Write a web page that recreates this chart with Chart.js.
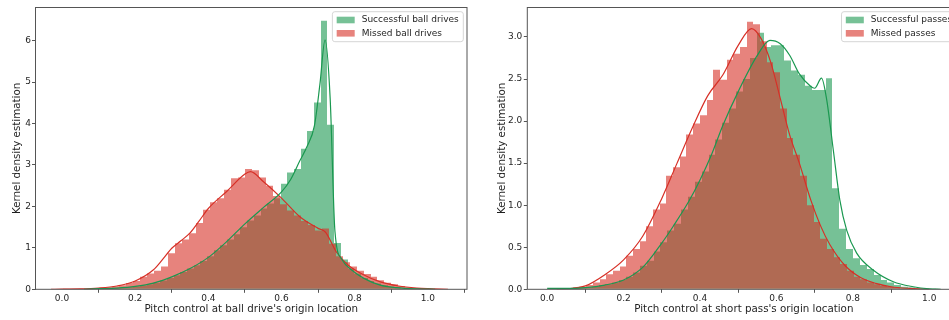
<!DOCTYPE html>
<html><head><meta charset="utf-8">
<script src="https://cdn.jsdelivr.net/npm/chart.js@4.4.1/dist/chart.umd.min.js"></script>
<style>
html,body{margin:0;padding:0;background:#fff;overflow:hidden;width:949px;height:320px;}
#wrap{position:relative;width:949px;height:320px;overflow:hidden;background:#fff;}
#c1{position:absolute;left:0;top:0;}
#c2{position:absolute;left:478px;top:0;}
</style></head><body>
<div id="wrap"><canvas id="c1" width="475" height="320"></canvas><canvas id="c2" width="500" height="320"></canvas></div>
<script>
// ---------- tick labels ----------
const X_TICKS = [0.0, 0.2, 0.4, 0.6, 0.8, 1.0];
const DRIVES_Y_TICKS = [0, 1, 2, 3, 4, 5, 6];
const PASSES_Y_TICKS = [0.0, 0.5, 1.0, 1.5, 2.0, 2.5, 3.0];
const Y_TITLE = "Kernel density estimation";
const DRIVES_X_TITLE = "Pitch control at ball drive's origin location";
const PASSES_X_TITLE = "Pitch control at short pass's origin location";
const DRIVES_LABELS = ["Successful ball drives", "Missed ball drives"];
const PASSES_LABELS = ["Successful passes", "Missed passes"];

// ---------- ball drives: histogram bin centres and densities ----------
const drivesSuccessBins = [0.0943,0.1126,0.1309,0.1492,0.1675,0.1858,0.2041,0.2224,0.2407,0.2590,0.2773,0.2956,0.3139,0.3322,0.3505,0.3688,0.3871,0.4054,0.4237,0.4420,0.4603,0.4786,0.4969,0.5152,0.5335,0.5518,0.5701,0.5884,0.6067,0.6250,0.6433,0.6616,0.6799,0.6982,0.7165,0.7348,0.7531,0.7714,0.7897,0.8080,0.8263,0.8446,0.8629,0.8812,0.8995,0.9178,0.9361,0.9544,0.9727];
const drivesSuccessHist = [0.01,0.01,0.02,0.03,0.04,0.05,0.07,0.09,0.12,0.16,0.21,0.27,0.34,0.42,0.50,0.58,0.68,0.80,0.94,1.06,1.20,1.33,1.50,1.66,1.78,1.95,2.07,2.20,2.55,2.82,2.90,3.39,3.82,4.51,6.48,3.97,1.12,0.72,0.50,0.38,0.27,0.20,0.14,0.10,0.06,0.04,0.02,0.01,0.01];
const drivesMissedBins = [0.0124,0.0315,0.0506,0.0697,0.0888,0.1079,0.1270,0.1461,0.1652,0.1843,0.2034,0.2225,0.2416,0.2607,0.2798,0.2989,0.3180,0.3371,0.3562,0.3753,0.3944,0.4135,0.4326,0.4517,0.4708,0.4899,0.5090,0.5281,0.5472,0.5663,0.5854,0.6045,0.6236,0.6427,0.6618,0.6809,0.7000,0.7191,0.7382,0.7573,0.7764,0.7955,0.8146,0.8337,0.8528,0.8719,0.8910,0.9101,0.9292,0.9483,0.9674,0.9865];
const drivesMissedHist = [0.01,0.01,0.01,0.02,0.02,0.03,0.05,0.07,0.10,0.15,0.20,0.30,0.38,0.45,0.55,0.87,1.11,1.20,1.35,1.60,1.92,2.10,2.20,2.40,2.68,2.70,2.90,2.87,2.70,2.50,2.25,2.05,1.90,1.78,1.65,1.55,1.42,1.47,1.10,0.80,0.65,0.55,0.45,0.37,0.30,0.22,0.16,0.12,0.08,0.05,0.03,0.02];
// ---------- ball drives: KDE curves ----------
const drivesSuccessKdeX = [0.06,0.10,0.15,0.20,0.25,0.30,0.35,0.40,0.45,0.50,0.55,0.60,0.625,0.65,0.67,0.69,0.705,0.719,0.733,0.746,0.765,0.797,0.824,0.87,0.915,0.97,1.02];
const drivesSuccessKdeY = [0.0,0.015,0.03,0.07,0.15,0.30,0.50,0.77,1.15,1.58,1.97,2.35,2.65,3.10,3.45,3.95,4.95,6.02,4.60,1.40,0.72,0.43,0.27,0.10,0.04,0.01,0.0];
const drivesMissedKdeX = [-0.03,0.0,0.05,0.10,0.15,0.20,0.25,0.275,0.30,0.325,0.35,0.375,0.40,0.45,0.50,0.515,0.55,0.60,0.65,0.70,0.72,0.75,0.78,0.82,0.87,0.92,0.97,1.00,1.055];
const drivesMissedKdeY = [0.0,0.005,0.01,0.03,0.08,0.20,0.47,0.72,0.99,1.17,1.36,1.65,1.95,2.36,2.78,2.84,2.60,2.20,1.75,1.47,1.38,0.90,0.60,0.37,0.18,0.08,0.03,0.015,0.0];

// ---------- short passes: histogram bin centres and densities ----------
const passesSuccessBins = [0.0175,0.0355,0.0535,0.0715,0.0895,0.1075,0.1255,0.1435,0.1615,0.1795,0.1975,0.2155,0.2335,0.2515,0.2695,0.2875,0.3055,0.3235,0.3415,0.3595,0.3775,0.3955,0.4135,0.4315,0.4495,0.4675,0.4855,0.5035,0.5215,0.5395,0.5575,0.5755,0.5935,0.6115,0.6295,0.6475,0.6655,0.6835,0.7015,0.7195,0.7375,0.7555,0.7735,0.7915,0.8095,0.8275,0.8455,0.8635,0.8815,0.8995,0.9175,0.9355,0.9535,0.9715,0.9895,1.0075];
const passesSuccessHist = [0.01,0.01,0.01,0.01,0.02,0.02,0.03,0.05,0.06,0.08,0.11,0.15,0.20,0.28,0.34,0.45,0.56,0.70,0.78,0.95,1.10,1.28,1.40,1.60,1.78,1.98,2.15,2.35,2.50,2.75,3.05,2.88,2.90,2.90,2.72,2.60,2.55,2.42,2.37,2.37,2.51,1.20,0.72,0.48,0.37,0.29,0.24,0.17,0.11,0.08,0.05,0.03,0.02,0.01,0.01,0.005];
const passesMissedBins = [0.0233,0.0408,0.0583,0.0758,0.0933,0.1108,0.1283,0.1458,0.1633,0.1808,0.1983,0.2158,0.2333,0.2508,0.2683,0.2858,0.3033,0.3208,0.3383,0.3558,0.3733,0.3908,0.4083,0.4258,0.4433,0.4608,0.4783,0.4958,0.5133,0.5308,0.5483,0.5658,0.5833,0.6008,0.6183,0.6358,0.6533,0.6708,0.6883,0.7058,0.7233,0.7408,0.7583,0.7758,0.7933,0.8108,0.8283,0.8458,0.8633,0.8808,0.8983,0.9158,0.9333,0.9508,0.9683];
const passesMissedHist = [0.0,0.01,0.01,0.02,0.03,0.05,0.08,0.12,0.18,0.22,0.27,0.40,0.48,0.57,0.75,0.95,1.02,1.35,1.45,1.58,1.84,1.97,2.07,2.25,2.61,2.49,2.73,2.80,2.88,3.18,3.15,2.95,2.70,2.58,2.15,1.80,1.60,1.35,1.00,0.80,0.60,0.48,0.38,0.30,0.22,0.15,0.12,0.08,0.06,0.04,0.03,0.02,0.01,0.01,0.005];
// ---------- short passes: KDE curves ----------
const passesSuccessKdeX = [0.0,0.05,0.10,0.15,0.20,0.25,0.30,0.33,0.37,0.40,0.43,0.46,0.50,0.55,0.583,0.61,0.635,0.66,0.69,0.70,0.718,0.731,0.749,0.766,0.784,0.81,0.853,0.906,0.958,1.0,1.03];
const passesSuccessKdeY = [0.01,0.01,0.02,0.05,0.11,0.26,0.55,0.75,1.04,1.30,1.60,1.95,2.35,2.78,2.96,2.92,2.78,2.56,2.41,2.39,2.51,2.27,1.65,1.06,0.70,0.43,0.23,0.09,0.03,0.005,0.0];
const passesMissedKdeX = [0.025,0.05,0.10,0.15,0.20,0.25,0.30,0.34,0.38,0.42,0.46,0.50,0.535,0.56,0.585,0.61,0.635,0.66,0.69,0.715,0.74,0.78,0.82,0.86,0.90,0.95,1.0];
const passesMissedKdeY = [0.0,0.005,0.04,0.17,0.35,0.63,1.08,1.50,1.92,2.30,2.55,2.90,3.10,2.98,2.70,2.27,1.83,1.50,1.06,0.76,0.53,0.28,0.14,0.07,0.03,0.01,0.0];

// ---------- styling ----------
const GREEN_LINE = '#1a9850', RED_LINE = '#d73027';
const GREEN_FILL = 'rgba(26,152,80,0.6)', RED_FILL = 'rgba(215,48,39,0.6)';
const FONT = '"DejaVu Sans", "Liberation Sans", sans-serif';
const TEXT = '#1f1f1f', SPINE = '#555555';
Chart.defaults.font.family = FONT;
Chart.defaults.color = TEXT;

const pts = (xs, ys) => xs.map((x, i) => ({x: x, y: ys[i]}));

// snap the library-computed bar edges to whole pixels so neighbouring bins meet without seams
const snapPlugin = {
  id: 'snapBars',
  beforeDatasetsDraw(chart) {
    chart.data.datasets.forEach((d, i) => {
      if (d.type !== 'bar') return;
      chart.getDatasetMeta(i).data.forEach(el => {
        const l = Math.round(el.x - el.width / 2), r = Math.round(el.x + el.width / 2);
        el.x = (l + r) / 2; el.width = r - l;
      });
    });
  }
};
const framePlugin = {
  id: 'mplFrame',
  afterDatasetsDraw(chart) {
    const {ctx, chartArea: a} = chart;
    ctx.save();
    ctx.strokeStyle = SPINE; ctx.lineWidth = 1;
    ctx.strokeRect(a.left, a.top, a.right - a.left, a.bottom - a.top);
    ctx.restore();
  }
};
const legendPlugin = {
  id: 'mplLegend',
  afterDraw(chart) {
    const {ctx, chartArea: a} = chart;
    const items = chart.data.datasets.filter(d => d.type === 'bar');
    ctx.save();
    ctx.font = '9px ' + FONT;
    const tw = Math.max(...items.map(d => ctx.measureText(d.label).width));
    const right = a.right - 3.7, top = a.top + 4.2;
    const w = tw + 33.9, h = 30, left = right - w, r = 2.5;
    ctx.beginPath();
    ctx.moveTo(left + r, top); ctx.lineTo(right - r, top); ctx.quadraticCurveTo(right, top, right, top + r);
    ctx.lineTo(right, top + h - r); ctx.quadraticCurveTo(right, top + h, right - r, top + h);
    ctx.lineTo(left + r, top + h); ctx.quadraticCurveTo(left, top + h, left, top + h - r);
    ctx.lineTo(left, top + r); ctx.quadraticCurveTo(left, top, left + r, top);
    ctx.closePath();
    ctx.fillStyle = 'rgba(255,255,255,0.8)'; ctx.fill();
    ctx.strokeStyle = '#d6d6d6'; ctx.lineWidth = 1; ctx.stroke();
    items.forEach((d, i) => {
      const cy = top + 8.3 + i * 13.3;
      ctx.fillStyle = d.backgroundColor;
      ctx.fillRect(left + 4.3, cy - 3.3, 18, 6.6);
      ctx.fillStyle = TEXT; ctx.textBaseline = 'middle'; ctx.textAlign = 'left';
      ctx.fillText(d.label, left + 29.3, cy);
    });
    ctx.restore();
  }
};

function build(id, c) {
  const tickGrid = {display: true, drawOnChartArea: false, drawTicks: true, tickLength: 3.5, tickColor: SPINE, tickWidth: 1};
  const barBase = {type: 'bar', borderWidth: 0, inflateAmount: 0, barPercentage: 1, categoryPercentage: 1, grouped: false};
  return new Chart(document.getElementById(id), {
    type: 'bar',
    data: {
      datasets: [
        {type: 'line', label: c.labels[0] + ' KDE', data: pts(c.sKx, c.sKy), xAxisID: 'x', borderColor: GREEN_LINE, borderWidth: 1.2, pointRadius: 0, cubicInterpolationMode: 'monotone', fill: false, order: 0},
        {type: 'line', label: c.labels[1] + ' KDE', data: pts(c.mKx, c.mKy), xAxisID: 'x', borderColor: RED_LINE, borderWidth: 1.2, pointRadius: 0, cubicInterpolationMode: 'monotone', fill: false, order: 0},
        Object.assign({}, barBase, {label: c.labels[0], data: pts(c.sBins, c.sHist), xAxisID: 'x', backgroundColor: GREEN_FILL, order: 2}),
        Object.assign({}, barBase, {label: c.labels[1], data: pts(c.mBins, c.mHist), xAxisID: 'xr', backgroundColor: RED_FILL, order: 1})
      ]
    },
    options: {
      responsive: false, animation: false, events: [],
      layout: {padding: {left: 0, top: 7.5, right: c.padRight, bottom: 0}},
      plugins: {legend: {display: false}, tooltip: {enabled: false}},
      scales: {
        x: {
          type: 'linear', position: 'bottom', min: c.xMin, max: c.xMax, offset: false,
          grid: tickGrid, border: {display: false},
          afterBuildTicks: ax => { ax.ticks = X_TICKS.map(v => ({value: v})); },
          afterFit: ax => { ax.height = 30.7; },
          ticks: {autoSkip: false, maxRotation: 0, padding: 0, color: TEXT, font: {size: 9}, callback: v => Number(v).toFixed(1)},
          title: {display: true, text: c.xTitle, color: TEXT, font: {size: 10.3}, padding: {top: 0, bottom: 4.1}}
        },
        xr: {
          type: 'linear', axis: 'x', position: 'bottom', display: false, min: c.xMin, max: c.xMax, offset: false
        },
        y: {
          type: 'linear', min: 0, max: c.yMax,
          grid: tickGrid, border: {display: false},
          afterBuildTicks: ax => { ax.ticks = c.yTicks.map(v => ({value: v})); },
          afterFit: ax => { ax.width = c.yWidth; },
          ticks: {autoSkip: false, padding: c.yTickPad, color: TEXT, font: {size: 9}, callback: c.yFmt},
          title: {display: true, text: Y_TITLE, color: TEXT, font: {size: 10.3}, padding: {top: c.yTitlePad, bottom: 0}}
        }
      }
    },
    plugins: [snapPlugin, framePlugin, legendPlugin]
  });
}

build('c1', {
  labels: DRIVES_LABELS, xTitle: DRIVES_X_TITLE,
  sBins: drivesSuccessBins, sHist: drivesSuccessHist, mBins: drivesMissedBins, mHist: drivesMissedHist,
  sKx: drivesSuccessKdeX, sKy: drivesSuccessKdeY, mKx: drivesMissedKdeX, mKy: drivesMissedKdeY,
  xMin: -0.0725, xMax: 1.107, yMax: 6.8, yTicks: DRIVES_Y_TICKS, yFmt: v => String(v),
  padRight: 8, yWidth: 35.5, yTitlePad: 10.9, yTickPad: 1
});
build('c2', {
  labels: PASSES_LABELS, xTitle: PASSES_X_TITLE,
  sBins: passesSuccessBins, sHist: passesSuccessHist, mBins: passesMissedBins, mHist: passesMissedHist,
  sKx: passesSuccessKdeX, sKy: passesSuccessKdeY, mKx: passesMissedKdeX, mKy: passesMissedKdeY,
  xMin: -0.052, xMax: 1.0815, yMax: 3.35, yTicks: PASSES_Y_TICKS, yFmt: v => Number(v).toFixed(1),
  padRight: 17.6, yWidth: 49.3, yTitlePad: 17.7, yTickPad: 1.5
});
</script>
</body></html>
